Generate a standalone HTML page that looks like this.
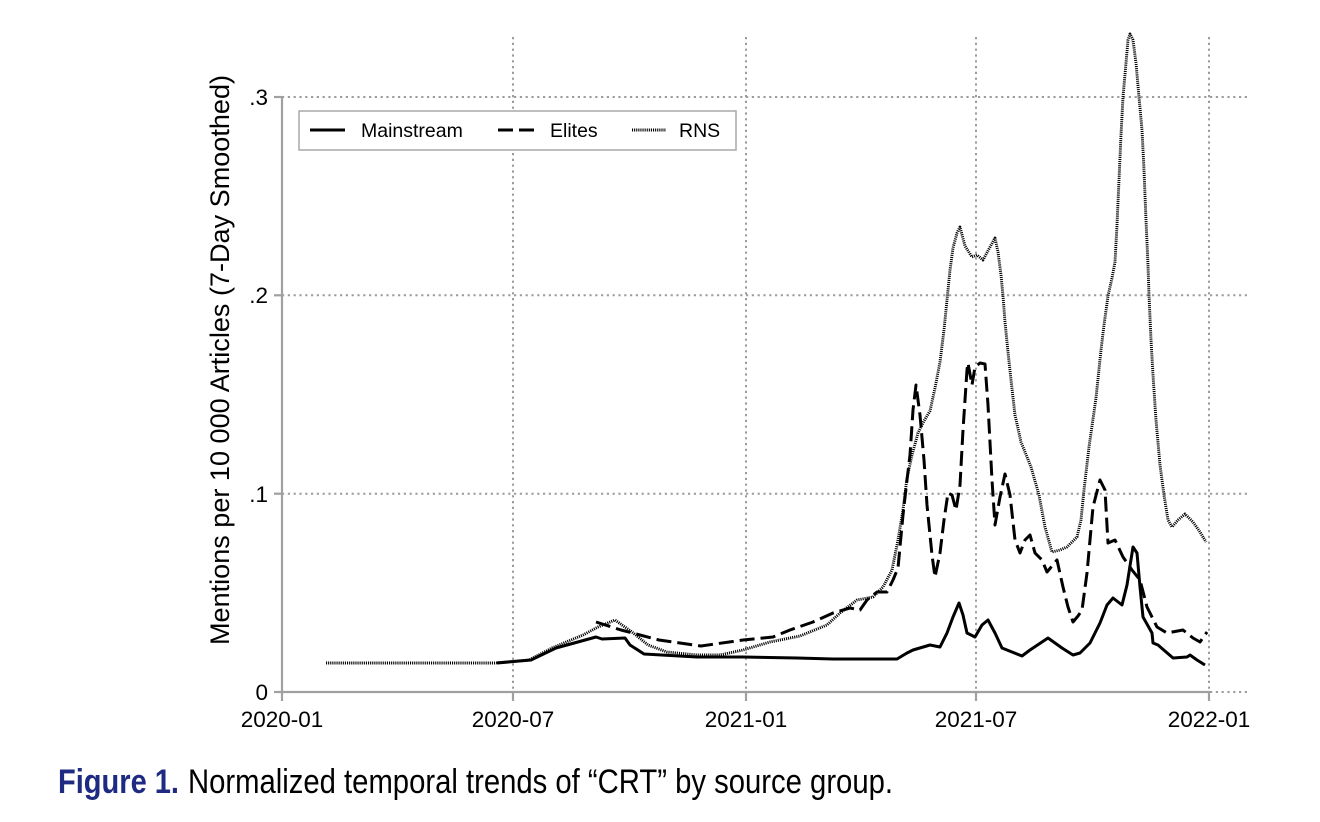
<!DOCTYPE html>
<html>
<head>
<meta charset="utf-8">
<style>
  html, body { margin:0; padding:0; background:#fff; }
  body { width:1320px; height:822px; overflow:hidden; }
  svg { display:block; }
</style>
</head>
<body>
<svg width="1320" height="822" viewBox="0 0 1320 822" xmlns="http://www.w3.org/2000/svg">
  <rect x="0" y="0" width="1320" height="822" fill="#fff"/>

  <!-- gridlines -->
  <g stroke="#9c9c9c" stroke-width="2" stroke-dasharray="2.2 3.6" fill="none">
    <line x1="282" y1="97" x2="1250" y2="97"/>
    <line x1="282" y1="295.3" x2="1250" y2="295.3"/>
    <line x1="282" y1="493.7" x2="1250" y2="493.7"/>
    <line x1="282" y1="692" x2="1250" y2="692"/>
    <line x1="513" y1="37" x2="513" y2="692"/>
    <line x1="746" y1="37" x2="746" y2="692"/>
    <line x1="976" y1="37" x2="976" y2="692"/>
    <line x1="1209" y1="37" x2="1209" y2="692"/>
  </g>

  <!-- RNS dotted -->
  <polyline fill="none" stroke="#000" stroke-width="2.9" stroke-dasharray="1.1 1" stroke-linejoin="round"
    points="326,663 495,663 529,660 552,648 583,635 598,627 615,620 632,632 648,645 667,652 697,655 720,655 743,650 770,642 800,636 827,625 840,613 857,600 873,597 883,587 892,570 898,540 903,510 907,478 912,455 918,433 924,421 930,411 935,388 940,362 944,330 947,300 950,270 953,248 957,233 960,227 965,246 972,257 977,255 983,260 990,247 995,238 998,252 1001,275 1003,296 1005,322 1008,352 1011,380 1015,415 1021,442 1031,467 1039,495 1045,527 1052,552 1060,550 1067,547 1077,537 1081,520 1084,490 1089,447 1096,398 1101,350 1104,325 1108,296 1112,278 1115,262 1117,225 1119,180 1121,135 1123,97 1126,63 1128,40 1130,34 1133,40 1136,63 1139,97 1142,130 1144,170 1146,220 1148,265 1149,295 1151,340 1153,375 1156,420 1160,465 1164,495 1168,520 1172,527 1178,520 1185,514 1193,522 1200,532 1206,542"/>

  <!-- Elites dashed -->
  <polyline fill="none" stroke="#000" stroke-width="3" stroke-dasharray="15 6" stroke-linejoin="round"
    points="596,622 621,630 659,640 701,646 743,640 773,637 790,630 813,622 833,613 850,608 860,610 867,600 877,592 887,592 893,580 898,568 903,515 907,480 910,455 913,410 916,385 920,415 924,460 927,505 932,555 935,577 940,553 944,520 948,493 952,495 956,510 960,485 963,430 967,370 968,363 972,385 975,367 980,363 985,364 988,405 992,480 995,525 1000,497 1005,474 1010,495 1015,540 1020,553 1025,540 1030,535 1035,553 1042,560 1047,572 1057,560 1063,587 1068,607 1073,622 1078,616 1082,610 1087,573 1093,507 1100,480 1105,490 1108,543 1115,540 1123,557 1132,570 1140,580 1147,607 1157,627 1167,633 1183,630 1193,638 1200,642 1207,632"/>

  <!-- Mainstream solid -->
  <polyline fill="none" stroke="#000" stroke-width="3" stroke-linejoin="round"
    points="497,663 531,660 556,648 596,637 602,639 625,638 630,645 644,654 697,657 743,657 797,658 833,659 897,659 907,653 913,650 930,645 940,647 947,633 953,617 959,603 963,615 967,633 975,637 982,625 988,620 995,633 1002,648 1007,650 1022,656 1030,650 1048,638 1062,648 1073,655 1080,653 1090,643 1100,623 1107,605 1113,598 1122,605 1127,585 1133,547 1137,553 1140,587 1143,617 1152,633 1153,643 1158,645 1173,658 1187,657 1190,655 1197,660 1205,665"/>

  <!-- axes -->
  <g stroke="#a0a0a0" stroke-width="2.2" fill="none">
    <line x1="282" y1="96" x2="282" y2="693"/>
    <line x1="281" y1="692" x2="1210" y2="692"/>
    <line x1="274" y1="97" x2="282" y2="97"/>
    <line x1="274" y1="295.3" x2="282" y2="295.3"/>
    <line x1="274" y1="493.7" x2="282" y2="493.7"/>
    <line x1="274" y1="692" x2="282" y2="692"/>
    <line x1="282" y1="692" x2="282" y2="701"/>
    <line x1="513" y1="692" x2="513" y2="701"/>
    <line x1="746" y1="692" x2="746" y2="701"/>
    <line x1="976" y1="692" x2="976" y2="701"/>
    <line x1="1209" y1="692" x2="1209" y2="701"/>
  </g>

  <!-- tick labels -->
  <g font-family="Liberation Sans, Arial, sans-serif" font-size="22.5" fill="#000">
    <text x="268" y="105" text-anchor="end">.3</text>
    <text x="268" y="303" text-anchor="end">.2</text>
    <text x="268" y="502" text-anchor="end">.1</text>
    <text x="268" y="700" text-anchor="end">0</text>
    <text x="282" y="727" text-anchor="middle">2020-01</text>
    <text x="513" y="727" text-anchor="middle">2020-07</text>
    <text x="746" y="727" text-anchor="middle">2021-01</text>
    <text x="976" y="727" text-anchor="middle">2021-07</text>
    <text x="1209" y="727" text-anchor="middle">2022-01</text>
  </g>

  <!-- y axis title -->
  <text transform="translate(229,360) rotate(-90)" text-anchor="middle" font-family="Liberation Sans, Arial, sans-serif" font-size="27" fill="#000" textLength="570" lengthAdjust="spacingAndGlyphs">Mentions per 10 000 Articles (7-Day Smoothed)</text>

  <!-- legend -->
  <rect x="299" y="111" width="437" height="39" fill="#fff" stroke="#a8a8a8" stroke-width="1.5"/>
  <line x1="310" y1="130" x2="345" y2="130" stroke="#000" stroke-width="3"/>
  <line x1="498" y1="130" x2="535" y2="130" stroke="#000" stroke-width="3" stroke-dasharray="15 6"/>
  <line x1="632" y1="130" x2="666" y2="130" stroke="#000" stroke-width="2.9" stroke-dasharray="1.1 1"/>
  <g font-family="Liberation Sans, Arial, sans-serif" font-size="19.5" fill="#000">
    <text x="361" y="137">Mainstream</text>
    <text x="550" y="137">Elites</text>
    <text x="679" y="137">RNS</text>
  </g>

  <!-- caption -->
  <text x="58" y="793" font-family="Liberation Sans, Arial, sans-serif" font-size="34" font-weight="bold" fill="#1f2a82" textLength="121" lengthAdjust="spacingAndGlyphs">Figure 1.</text>
  <text x="188" y="793" font-family="Liberation Sans, Arial, sans-serif" font-size="34" fill="#000" textLength="705" lengthAdjust="spacingAndGlyphs">Normalized temporal trends of “CRT” by source group.</text>
</svg>
</body>
</html>
